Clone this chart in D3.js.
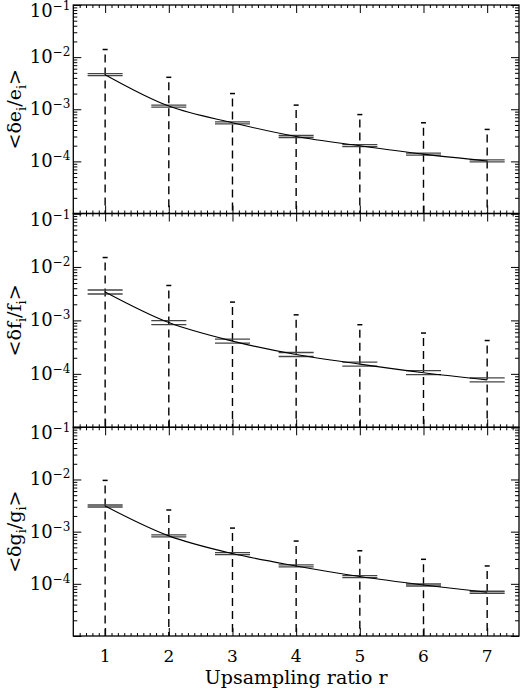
<!DOCTYPE html>
<html lang="en">
<head>
<meta charset="UTF-8">
<title>Upsampling ratio</title>
<style>
  body { margin: 0; background: #fff; }
  text { font-family: "DejaVu Serif", serif; fill: #000; }
</style>
</head>
<body>
<script src="https://d3js.org/d3.v7.min.js"></script>
<script>
// data
var ratios = [1, 2, 3, 4, 5, 6, 7];
var eMean  = [4.6e-3, 1.15e-3, 5.5e-4, 3.0e-4, 2.0e-4, 1.38e-4, 1.02e-4];
var eUpper = [1.4e-2, 4.1e-3, 2.0e-3, 1.2e-3, 7.9e-4, 5.5e-4, 4.1e-4];
var fMean  = [3.4e-3, 9.1e-4, 4.1e-4, 2.3e-4, 1.52e-4, 1.05e-4, 7.7e-5];
var fUpper = [1.5e-2, 4.5e-3, 2.2e-3, 1.27e-3, 8.3e-4, 5.8e-4, 4.2e-4];
var gMean  = [3.1e-3, 8.3e-4, 3.8e-4, 2.2e-4, 1.38e-4, 9.5e-5, 6.9e-5];
var gUpper = [9.6e-3, 2.6e-3, 1.17e-3, 6.6e-4, 4.3e-4, 2.95e-4, 2.2e-4];
var yTicks = [1e-1, 1e-2, 1e-3, 1e-4];
var yTickExp = ['\u22121', '\u22122', '\u22123', '\u22124'];
var yLabels = [['\u003c\u03b4e', 'i', '/e', 'i', '\u003e'],
               ['\u003c\u03b4f', 'i', '/f', 'i', '\u003e'],
               ['\u003c\u03b4g', 'i', '/g', 'i', '\u003e']];
var xTitle = 'Upsampling ratio r';

var width = 520, height = 688;
var left = 73.3, right = 519;
var tops = [5, 213.5, 427.3];
var bottoms = [213.5, 427.3, 636];
var barGap = [1, 2, 1];

var panels = [
  {mean: eMean, upper: eUpper, label: yLabels[0]},
  {mean: fMean, upper: fUpper, label: yLabels[1]},
  {mean: gMean, upper: gUpper, label: yLabels[2]}
];

var svg = d3.select('body').append('svg')
  .attr('width', width)
  .attr('height', height);

var xScale = d3.scaleLinear().domain([0.5, 7.5]).range([left, right]);

var xMinor = d3.range(6, 75).map(d => d / 10).filter(d => d % 1 !== 0);
var yMinor = [];
[-5, -4, -3, -2].forEach(function(p) {
  for (var k = 2; k <= 9; k++) yMinor.push(k * Math.pow(10, p));
});
var yMajor = [1e-5].concat(yTicks);

panels.forEach(function(p, pi) {
  var yScale = d3.scaleLog().domain([1e-5, 1e-1]).range([bottoms[pi], tops[pi]]);
  var g = svg.append('g');

  // ticks on all four sides, pointing in
  function addAxis(axis, tx, ty) {
    var a = g.append('g')
      .attr('transform', `translate(${tx},${ty})`)
      .call(axis);
    a.select('.domain').remove();
    a.selectAll('text').remove();
    a.selectAll('line').attr('stroke', '#000').attr('stroke-width', 1);
  }
  addAxis(d3.axisLeft(yScale).tickValues(yMajor).tickSize(-8), left, 0);
  addAxis(d3.axisLeft(yScale).tickValues(yMinor).tickSize(-4), left, 0);
  addAxis(d3.axisRight(yScale).tickValues(yMajor).tickSize(-8), right, 0);
  addAxis(d3.axisRight(yScale).tickValues(yMinor).tickSize(-4), right, 0);
  addAxis(d3.axisBottom(xScale).tickValues(ratios).tickSize(-8), 0, bottoms[pi]);
  addAxis(d3.axisBottom(xScale).tickValues(xMinor).tickSize(-3), 0, bottoms[pi]);
  addAxis(d3.axisTop(xScale).tickValues(ratios).tickSize(-8), 0, tops[pi]);
  addAxis(d3.axisTop(xScale).tickValues(xMinor).tickSize(-3), 0, tops[pi]);

  g.append('rect')
    .attr('x', left)
    .attr('y', tops[pi])
    .attr('width', right - left)
    .attr('height', bottoms[pi] - tops[pi])
    .attr('fill', 'none')
    .attr('stroke', '#000')
    .attr('stroke-width', 1.3);

  // y tick labels 10^-n
  var lab = g.selectAll('.ylab')
    .data(yTicks)
    .enter().append('text')
    .attr('class', 'ylab')
    .attr('text-anchor', 'end')
    .attr('x', left - 3)
    .attr('y', (d, i) => yScale(d) + (i === 0 ? 12 : 6))
    .style('font-size', '18px');
  lab.append('tspan').text('10');
  lab.append('tspan')
    .attr('dy', -7)
    .style('font-size', '12px')
    .text((d, i) => yTickExp[i]);

  // y title
  var yt = g.append('text')
    .attr('transform', `translate(21, ${(tops[pi] + bottoms[pi]) / 2}) rotate(-90)`)
    .attr('text-anchor', 'middle')
    .style('font-size', '19px');
  p.label.forEach(function(s, si) {
    var ts = yt.append('tspan').text(s);
    if (si === 1 || si === 3) ts.attr('dy', 5).style('font-size', '13px');
    if (si === 2 || si === 4) ts.attr('dy', -5);
  });

  var pts = ratios.map((r, i) => ({r: r, m: p.mean[i], u: p.upper[i]}));

  // dashed error bars down to the axis
  g.selectAll('.err')
    .data(pts)
    .enter().append('line')
    .attr('x1', d => xScale(d.r))
    .attr('x2', d => xScale(d.r))
    .attr('y1', d => yScale(d.u))
    .attr('y2', bottoms[pi])
    .attr('stroke', '#000')
    .attr('stroke-width', 1.4)
    .attr('stroke-dasharray', '8,5')
    .attr('stroke-dashoffset', 8);

  g.selectAll('.cap')
    .data(pts)
    .enter().append('line')
    .attr('x1', d => xScale(d.r) - 2.5)
    .attr('x2', d => xScale(d.r) + 2.5)
    .attr('y1', d => yScale(d.u))
    .attr('y2', d => yScale(d.u))
    .attr('stroke', '#000')
    .attr('stroke-width', 1.5);

  // horizontal bars at the mean (double line)
  [-1, 1].forEach(function(s) {
    g.selectAll('.bar' + s)
      .data(pts)
      .enter().append('line')
      .attr('x1', d => xScale(d.r - 0.275))
      .attr('x2', d => xScale(d.r + 0.275))
      .attr('y1', d => yScale(d.m) + s * barGap[pi])
      .attr('y2', d => yScale(d.m) + s * barGap[pi])
      .attr('stroke', '#444')
      .attr('stroke-width', 1.3);
  });

  var line = d3.line()
    .x(d => xScale(d.r))
    .y(d => yScale(d.m))
    .curve(d3.curveCatmullRom.alpha(0.5));

  g.append('path')
    .datum(pts)
    .attr('d', line)
    .attr('fill', 'none')
    .attr('stroke', '#000')
    .attr('stroke-width', 1.1);

  // x labels only under the last panel
  if (pi === panels.length - 1) {
    g.selectAll('.xlab')
      .data(ratios)
      .enter().append('text')
      .attr('text-anchor', 'middle')
      .attr('x', d => xScale(d))
      .attr('y', bottoms[pi] + 26)
      .style('font-size', '17px')
      .text(d => d);

    g.append('text')
      .attr('text-anchor', 'middle')
      .attr('x', (left + right) / 2)
      .attr('y', 684)
      .style('font-size', '19px')
      .text(xTitle);
  }
});
</script>
</body>
</html>
